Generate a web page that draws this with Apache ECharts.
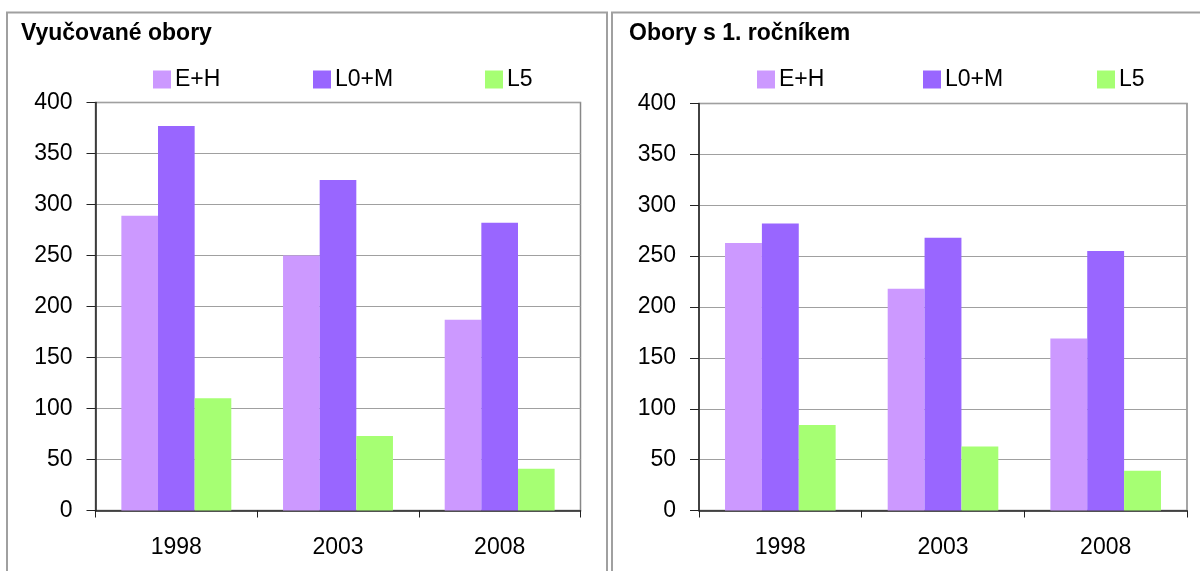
<!DOCTYPE html>
<html>
<head>
<meta charset="utf-8">
<script src="https://cdn.jsdelivr.net/npm/echarts@6/dist/echarts.min.js"></script>
<style>
  html, body { margin: 0; padding: 0; background: #fff; }
  #chart { width: 1200px; height: 571px; }
</style>
</head>
<body>
<div id="chart"></div>
<script>
// ---- data ----
const categories = ['1998', '2003', '2008'];
const seriesNames = ['E+H', 'L0+M', 'L5'];
const titles = ['Vyučované obory', 'Obory s 1. ročníkem'];
// Left panel: Vyučované obory
const taughtEH = [289, 250, 187];
const taughtL0M = [377, 324, 282];
const taughtL5 = [110, 73, 41];
// Right panel: Obory s 1. ročníkem
const firstEH = [263, 218, 169];
const firstL0M = [282, 268, 255];
const firstL5 = [84, 63, 39];

const colors = ['#cc99ff', '#9966ff', '#a6ff73'];
const FONT = '"Liberation Sans", Arial, sans-serif';
const FS = 23;

const chart = echarts.init(document.getElementById('chart'), null, { renderer: 'canvas' });

function xAxisFor(gridIndex) {
  return {
    type: 'category', gridIndex: gridIndex, data: categories,
    boundaryGap: true,
    axisLine: { show: true, lineStyle: { color: '#222', width: 1.5 } },
    axisTick: { show: true, alignWithLabel: false, interval: 0, length: 7, lineStyle: { color: '#222', width: 1 } },
    axisLabel: { color: '#000', fontSize: FS, fontFamily: FONT, margin: 26 },
    splitLine: { show: false }
  };
}
function yAxisFor(gridIndex) {
  return {
    type: 'value', gridIndex: gridIndex, min: 0, max: 400, interval: 50,
    axisLine: { show: true, lineStyle: { color: '#222', width: 1.5 } },
    axisTick: { show: true, length: 9, lineStyle: { color: '#222', width: 1 } },
    axisLabel: { color: '#000', fontSize: FS, fontFamily: FONT, margin: 23 },
    splitLine: { show: true, lineStyle: { color: '#a0a0a0', width: 1 } }
  };
}
function barSeries(name, data, idx, gridIdx) {
  return {
    type: 'bar', name: name, data: data,
    xAxisIndex: gridIdx, yAxisIndex: gridIdx,
    barGap: '0%', barCategoryGap: '32%',
    itemStyle: { color: colors[idx] },
    emphasis: { disabled: true }
  };
}
function legendItem(name, left) {
  return {
    data: [name], left: left, top: 68, padding: 0,
    orient: 'horizontal', icon: 'rect', itemWidth: 18, itemHeight: 18,
    textStyle: { color: '#000', fontSize: FS, fontFamily: FONT, padding: [0, 0, 0, -1] }
  };
}

const option = {
  backgroundColor: '#fff',
  animation: false,
  title: [
    { text: titles[0], left: 21, top: 22, padding: 0,
      textStyle: { color: '#000', fontSize: 23, fontWeight: 'bold', fontFamily: FONT } },
    { text: titles[1], left: 629, top: 22, padding: 0,
      textStyle: { color: '#000', fontSize: 23, fontWeight: 'bold', fontFamily: FONT } }
  ],
  legend: [
    legendItem(seriesNames[0], 153), legendItem(seriesNames[1], 313), legendItem(seriesNames[2], 485),
    legendItem(seriesNames[0], 757), legendItem(seriesNames[1], 923), legendItem(seriesNames[2], 1097)
  ],
  graphic: [
    { type: 'rect', z: -10, shape: { x: 7, y: 12.5, width: 600, height: 640 },
      style: { fill: 'none', stroke: '#a0a0a0', lineWidth: 2 } },
    { type: 'rect', z: -10, shape: { x: 612, y: 12.5, width: 640, height: 640 },
      style: { fill: 'none', stroke: '#a0a0a0', lineWidth: 2 } }
  ],
  grid: [
    { left: 95.5, top: 102.5, width: 485, height: 408, show: true, borderColor: '#888', borderWidth: 1.5, backgroundColor: 'transparent' },
    { left: 699, top: 103.5, width: 488, height: 407, show: true, borderColor: '#888', borderWidth: 1.5, backgroundColor: 'transparent' }
  ],
  xAxis: [xAxisFor(0), xAxisFor(1)],
  yAxis: [yAxisFor(0), yAxisFor(1)],
  series: [
    barSeries(seriesNames[0], taughtEH, 0, 0),
    barSeries(seriesNames[1], taughtL0M, 1, 0),
    barSeries(seriesNames[2], taughtL5, 2, 0),
    barSeries(seriesNames[0], firstEH, 0, 1),
    barSeries(seriesNames[1], firstL0M, 1, 1),
    barSeries(seriesNames[2], firstL5, 2, 1)
  ]
};
chart.setOption(option);
</script>
</body>
</html>
